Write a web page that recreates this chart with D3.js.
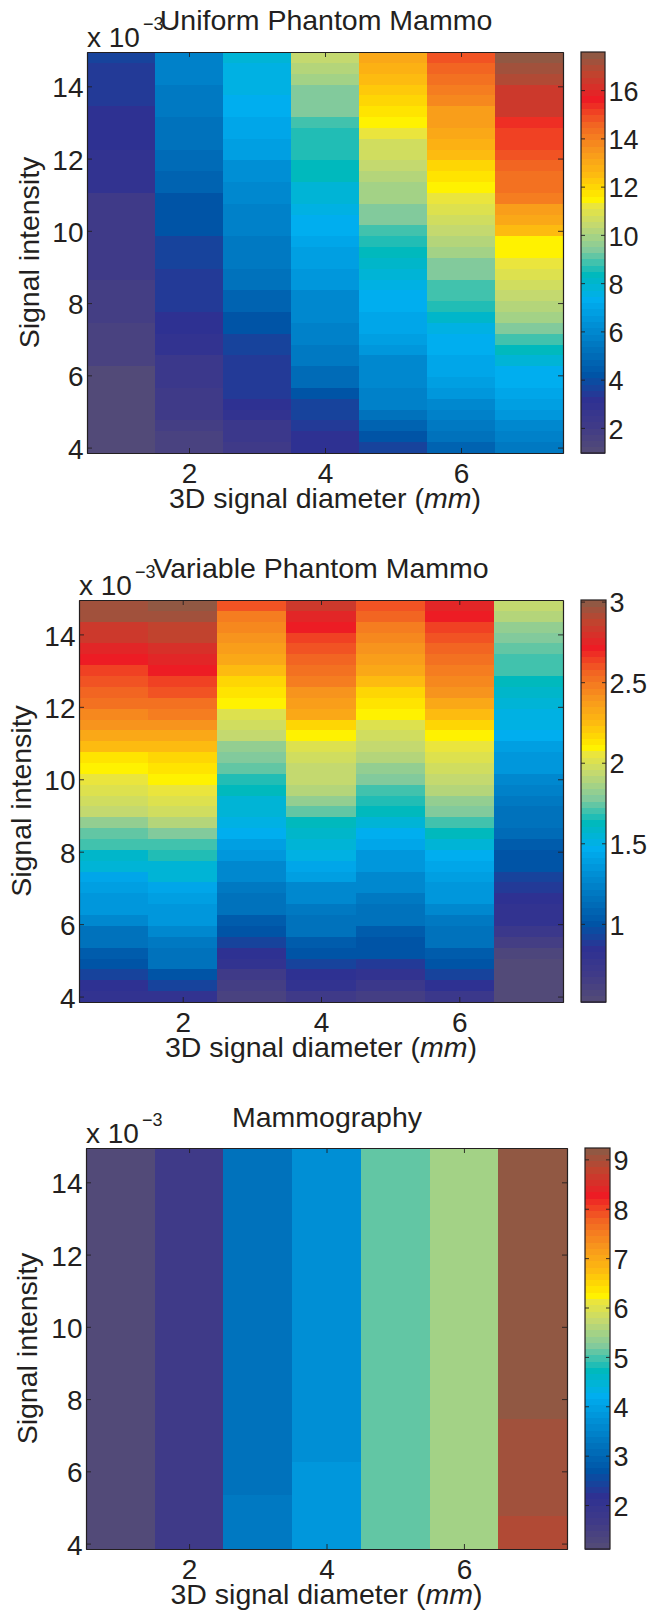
<!DOCTYPE html>
<html><head><meta charset="utf-8">
<script src="https://cdn.jsdelivr.net/npm/d3@7"></script>
<style>
html,body{margin:0;padding:0;background:#fff}
svg{display:block}
text{font-family:"Liberation Sans",Arial,sans-serif;fill:#231f20}
</style></head><body>
<svg id="fig" width="647" height="1610"></svg>
<script>
// Signal intensity of each row (x 10^-3), top to bottom
const signalRows=[14.8,14.5,14.2,13.9,13.6,13.3,13.0,12.7,12.4,12.1,11.8,11.5,11.2,10.9,10.6,10.3,10.0,9.7,9.4,9.1,8.8,8.5,8.2,7.9,7.6,7.3,7.0,6.7,6.4,6.1,5.8,5.5,5.2,4.9,4.6,4.3,4.0];
const diameters=[1,2,3,4,5,6,7];
const xTicks=[2,4,6];
const yTicks=[4,6,8,10,12,14];

const uniformD1=[3.7,3.3,3.3,3.3,3.3,3.05,3.05,3.05,3.05,2.8,2.8,2.8,2.8,2.25,2.25,2.25,2.25,2.0,2.0,2.0,2.0,1.75,1.75,1.75,1.75,1.5,1.5,1.5,1.5,1.2,1.2,1.2,1.2,1.0,1.0,1.0,1.0];
const uniformD2=[5.65,5.65,5.65,5.4,5.4,5.4,5.15,5.15,5.15,4.9,4.9,4.6,4.6,4.3,4.3,4.1,4.1,3.75,3.75,3.75,3.5,3.3,3.3,3.3,3.05,3.05,2.8,2.8,2.3,2.3,2.3,2.05,2.05,2.05,1.8,1.5,1.5];
const uniformD3=[7.9,7.7,7.65,7.55,7.2,7.2,6.95,6.95,6.7,6.7,6.4,6.4,6.15,6.15,5.65,5.65,5.65,5.4,5.4,5.4,5.15,5.15,4.6,4.6,4.1,4.1,3.8,3.8,3.5,3.5,3.3,3.3,3.05,2.8,2.3,2.3,2.0];
const uniformD4=[10.35,10.1,9.8,9.5,9.3,9.3,9.0,8.75,8.5,8.5,8.3,8.3,7.8,7.8,7.6,7.2,7.2,6.95,6.7,6.7,6.45,6.45,6.0,6.0,6.0,5.65,5.65,5.4,5.4,4.9,4.9,4.3,3.8,3.6,3.3,3.05,3.05];
const uniformD5=[13.0,12.75,12.5,12.25,12.0,11.8,11.35,11.1,10.75,10.7,10.45,10.25,10.0,9.8,9.5,9.3,9.0,8.6,8.3,8.1,7.85,7.6,7.45,7.2,6.95,6.95,6.7,6.45,6.15,6.15,6.15,5.65,5.65,5.15,4.6,4.1,3.8];
const uniformD6=[14.75,14.5,14.25,14.0,13.75,13.4,13.2,12.95,12.7,12.4,12.1,11.65,11.35,11.1,10.85,10.6,10.35,10.1,9.8,9.5,9.3,9.0,8.8,8.5,8.1,7.6,7.2,7.2,6.95,6.95,6.7,6.45,6.15,5.65,5.4,5.15,4.6];
const uniformD7=[17.5,17.1,16.9,16.5,16.5,16.5,15.5,15.2,15.0,14.75,14.5,14.25,14.25,14.0,13.4,12.95,12.4,11.35,11.35,11.1,10.85,10.6,10.35,10.1,9.8,9.5,8.8,8.3,7.8,7.45,7.2,6.95,6.7,6.45,6.15,5.65,5.4];

const variableD1=[2.97,2.94,2.84,2.84,2.74,2.70,2.64,2.59,2.55,2.51,2.46,2.39,2.31,2.24,2.14,2.08,2.04,2.00,1.96,1.92,1.84,1.76,1.69,1.59,1.55,1.45,1.41,1.37,1.34,1.26,1.17,1.14,1.04,.99,.91,.86,.81];
const variableD2=[2.99,2.97,2.89,2.89,2.81,2.74,2.71,2.64,2.59,2.51,2.47,2.40,2.31,2.24,2.19,2.12,2.08,2.04,2.00,1.96,1.89,1.80,1.72,1.66,1.56,1.54,1.45,1.41,1.37,1.34,1.29,1.21,1.17,1.14,1.01,.91,.81];
const variableD3=[2.59,2.49,2.44,2.40,2.36,2.31,2.26,2.19,2.14,2.08,2.01,1.97,1.94,1.84,1.80,1.76,1.66,1.61,1.56,1.54,1.49,1.46,1.39,1.34,1.29,1.29,1.21,1.17,1.14,1.06,.99,.91,.86,.82,.70,.66,.62];
const variableD4=[2.84,2.74,2.70,2.65,2.59,2.55,2.51,2.47,2.41,2.36,2.31,2.19,2.09,2.01,1.99,1.95,1.92,1.89,1.81,1.74,1.64,1.59,1.54,1.49,1.45,1.41,1.29,1.26,1.21,1.17,1.14,1.06,.99,.91,.86,.82,.70];
const variableD5=[2.59,2.55,2.47,2.44,2.39,2.35,2.31,2.26,2.19,2.12,2.08,2.01,1.97,1.94,1.89,1.84,1.80,1.72,1.66,1.61,1.56,1.47,1.45,1.37,1.34,1.29,1.26,1.21,1.17,1.14,1.06,1.01,.99,.89,.82,.71,.66];
const variableD6=[2.74,2.70,2.64,2.59,2.55,2.51,2.47,2.44,2.39,2.31,2.26,2.19,2.08,2.04,2.00,1.96,1.92,1.89,1.84,1.80,1.72,1.61,1.54,1.46,1.45,1.41,1.37,1.34,1.29,1.21,1.17,1.14,1.06,.99,.91,.86,.74];
const variableD7=[1.92,1.89,1.84,1.80,1.76,1.72,1.69,1.61,1.59,1.54,1.51,1.49,1.46,1.41,1.37,1.34,1.29,1.25,1.21,1.17,1.14,1.10,1.06,1.01,.99,.94,.89,.86,.82,.79,.74,.66,.59,.55,.55,.52,.52];

const mammoD1=[1.2,1.2,1.2,1.2,1.2,1.2,1.2,1.2,1.2,1.2,1.2,1.2,1.2,1.2,1.2,1.2,1.2,1.2,1.2,1.2,1.2,1.2,1.2,1.2,1.2,1.2,1.2,1.2,1.2,1.2,1.2,1.2,1.2,1.2,1.2,1.2,1.2];
const mammoD2=[1.7,1.7,1.7,1.7,1.7,1.7,1.7,1.7,1.7,1.7,1.7,1.7,1.7,1.7,1.7,1.7,1.7,1.7,1.7,1.7,1.7,1.7,1.7,1.7,1.7,1.7,1.7,1.7,1.7,1.7,1.7,1.7,1.7,1.7,1.7,1.7,1.7];
const mammoD3=[3.15,3.15,3.15,3.15,3.15,3.15,3.15,3.15,3.15,3.15,3.15,3.15,3.15,3.15,3.15,3.15,3.15,3.15,3.15,3.15,3.15,3.15,3.15,3.15,3.15,3.15,3.15,3.15,3.15,3.15,3.15,3.15,3.3,3.3,3.3,3.3,3.3];
const mammoD4=[3.7,3.7,3.7,3.7,3.7,3.7,3.7,3.7,3.7,3.7,3.7,3.7,3.7,3.7,3.7,3.7,3.7,3.7,3.7,3.7,3.7,3.7,3.7,3.7,3.7,3.7,3.7,3.7,3.7,3.85,3.85,3.85,3.85,3.85,3.85,3.85,3.85];
const mammoD5=[5.06,5.06,5.06,5.06,5.06,5.06,5.06,5.06,5.06,5.06,5.06,5.06,5.06,5.06,5.06,5.06,5.06,5.06,5.06,5.06,5.06,5.06,5.06,5.06,5.06,5.06,5.06,5.06,5.06,5.06,5.06,5.06,5.06,5.06,5.06,5.06,5.06];
const mammoD6=[5.45,5.45,5.45,5.45,5.45,5.45,5.45,5.45,5.45,5.45,5.45,5.45,5.45,5.45,5.45,5.45,5.45,5.45,5.45,5.45,5.45,5.45,5.45,5.45,5.45,5.45,5.45,5.45,5.45,5.45,5.45,5.45,5.45,5.45,5.45,5.45,5.45];
const mammoD7=[9.15,9.15,9.15,9.15,9.15,9.15,9.15,9.15,9.15,9.15,9.15,9.15,9.15,9.15,9.15,9.15,9.15,9.15,9.15,9.15,9.15,9.15,9.15,9.15,9.15,9.0,9.0,9.0,9.0,9.0,9.0,9.0,9.0,9.0,8.85,8.85,8.85];

// Colour stops of the printed jet-like map, at positions along the bar
const cmapPositions=[0,.0625,.125,.1875,.25,.3125,.375,.4375,.5,.5625,.609,.625,.645,.6875,.75,.8125,.875,.9375,.99];
const cmapStops=["#524a78","#3f3a88","#2e3192","#0054a6","#0072bc","#008fd5","#00aeef","#00b9bd","#82ca9c","#c4d96f","#e9e53e","#fff200","#ffe000","#fdbb10","#f7941d","#f26522","#ed1c24","#c1432e","#8b5a45"];
const nLevels=64;

const panels=[
 {title:"Uniform Phantom Mammo",titleX:326,titleY:20,box:[87,563,52,453],bar:[581,605],vmin:.96,vmax:17.58,
  barTicks:[2,4,6,8,10,12,14,16],ylabX:39,exp:143,
  cols:[uniformD1,uniformD2,uniformD3,uniformD4,uniformD5,uniformD6,uniformD7]},
 {title:"Variable Phantom Mammo",titleX:321,titleY:568,box:[79,563,600,1002],bar:[581,606],vmin:.515,vmax:3.01,
  barTicks:[1,1.5,2,2.5,3],ylabX:31,exp:135,
  cols:[variableD1,variableD2,variableD3,variableD4,variableD5,variableD6,variableD7]},
 {title:"Mammography",titleX:327,titleY:1117,box:[86,567,1148,1549],bar:[585,610],vmin:1.11,vmax:9.23,
  barTicks:[2,3,4,5,6,7,8,9],ylabX:37,exp:142,
  cols:[mammoD1,mammoD2,mammoD3,mammoD4,mammoD5,mammoD6,mammoD7]}
];

const svg=d3.select("#fig");
const ink="#231f20";
const stopScale=d3.scaleLinear().domain(cmapPositions).range(cmapStops).interpolate(d3.interpolateRgb).clamp(true);
const palette=d3.range(nLevels).map(i=>stopScale(i/nLevels));
const tickFont=28, labelFont=28.5;

panels.forEach(p=>{
  const [L,R,T,B]=p.box;
  const g=svg.append("g");
  const x=d3.scaleLinear().domain([.5,7.5]).range([L,R]);
  const y=d3.scaleLinear().domain([3.85,14.95]).range([B,T]);
  const color=d3.scaleQuantize().domain([p.vmin,p.vmax]).range(palette);

  // heat-map cells
  const cells=p.cols.flatMap((col,ci)=>col.map((v,ri)=>({d:diameters[ci],s:signalRows[ri],v})));
  g.append("g").attr("shape-rendering","crispEdges").selectAll("rect").data(cells).join("rect")
    .attr("x",d=>x(d.d-.5)).attr("width",d=>x(d.d+.5)-x(d.d-.5)+.6)
    .attr("y",d=>y(d.s+.15)).attr("height",d=>y(d.s-.15)-y(d.s+.15)+.6)
    .attr("fill",d=>color(d.v));

  // axes: ticks point inward on all four sides
  const style=a=>{a.selectAll("path").attr("stroke",ink).attr("stroke-width",1.2);a.selectAll("line").attr("stroke",ink).attr("stroke-width",.9);};
  g.append("g").attr("transform",`translate(0,${B})`).call(d3.axisBottom(x).tickValues(xTicks).tickSizeInner(-5).tickSizeOuter(0).tickFormat(d=>d)).call(style)
    .call(a=>a.selectAll("text").attr("font-size",tickFont).attr("text-anchor","middle").attr("y",20.5).attr("dy","0.35em").attr("fill",ink));
  g.append("g").attr("transform",`translate(0,${T})`).call(d3.axisTop(x).tickValues(xTicks).tickSizeInner(-5).tickSizeOuter(0).tickFormat("")).call(style);
  g.append("g").attr("transform",`translate(${L},0)`).call(d3.axisLeft(y).tickValues(yTicks).tickSizeInner(-5).tickSizeOuter(0).tickFormat(d=>d)).call(style)
    .call(a=>a.selectAll("text").attr("font-size",tickFont).attr("x",-3.5).attr("dy","0.38em").attr("fill",ink));
  g.append("g").attr("transform",`translate(${R},0)`).call(d3.axisRight(y).tickValues(yTicks).tickSizeInner(-5).tickSizeOuter(0).tickFormat("")).call(style);

  // titles and labels
  g.append("text").attr("x",p.titleX).attr("y",p.titleY).attr("dy","0.36em").attr("text-anchor","middle").attr("font-size",labelFont).text(p.title);
  const xl=g.append("text").attr("x",(L+R)/2).attr("y",B+54.5).attr("text-anchor","middle").attr("font-size",labelFont);
  xl.append("tspan").text("3D signal diameter (");
  xl.append("tspan").attr("font-style","italic").text("mm");
  xl.append("tspan").text(")");
  g.append("text").attr("transform",`translate(${p.ylabX},${(T+B)/2}) rotate(-90)`).attr("text-anchor","middle").attr("font-size",labelFont).text("Signal intensity");
  g.append("text").attr("x",L).attr("y",T-5).attr("font-size",tickFont).text("x 10");
  g.append("text").attr("x",p.exp).attr("y",T-22).attr("font-size",18).text("\u22123");

  // colour bar
  const [bl,br]=p.bar;
  const c=d3.scaleLinear().domain([p.vmin,p.vmax]).range([B,T]);
  const step=(p.vmax-p.vmin)/nLevels;
  g.append("g").attr("shape-rendering","crispEdges").selectAll("rect").data(palette).join("rect")
    .attr("x",bl).attr("width",br-bl)
    .attr("y",(d,i)=>c(p.vmin+(i+1)*step)).attr("height",(d,i)=>c(p.vmin+i*step)-c(p.vmin+(i+1)*step)+.6)
    .attr("fill",d=>d);
  g.append("rect").attr("x",bl).attr("y",T).attr("width",br-bl).attr("height",B-T).attr("fill","none").attr("stroke",ink).attr("stroke-width",1.2);
  g.append("g").attr("transform",`translate(${bl},0)`).call(d3.axisRight(c).tickValues(p.barTicks).tickSizeInner(4).tickSizeOuter(0).tickFormat("")).call(style).call(a=>a.select("path").remove());
  g.append("g").attr("transform",`translate(${br},0)`).call(d3.axisLeft(c).tickValues(p.barTicks).tickSizeInner(4).tickSizeOuter(0).tickFormat(d=>d)).call(style).call(a=>a.select("path").remove())
    .call(a=>a.selectAll("text").attr("font-size",27).attr("text-anchor","start").attr("x",3.5).attr("dy","0.38em").attr("fill",ink));
});
</script>
</body></html>
